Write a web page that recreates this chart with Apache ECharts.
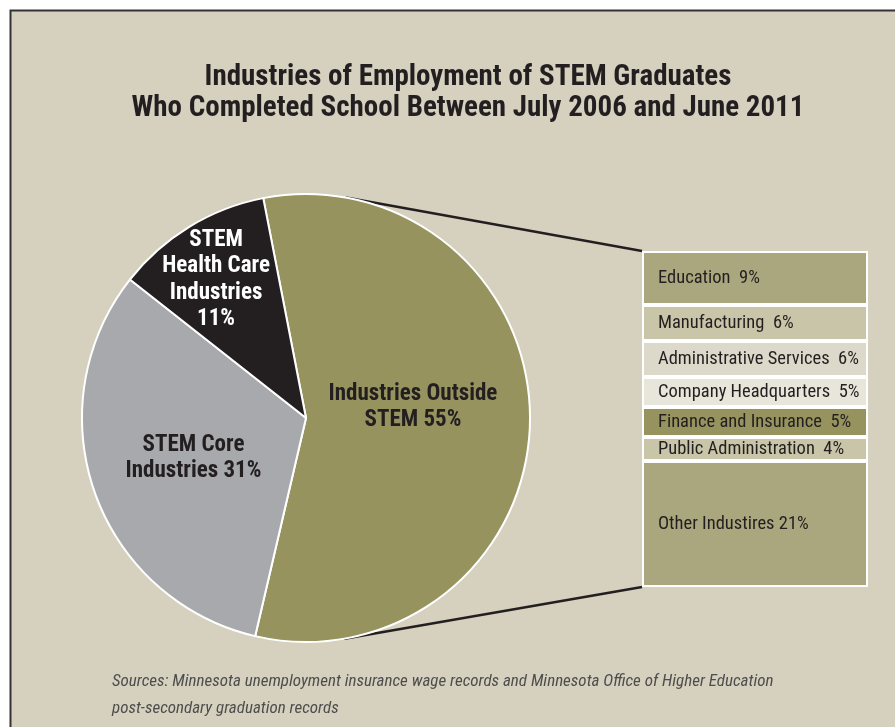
<!DOCTYPE html>
<html>
<head>
<meta charset="utf-8">
<script src="https://cdn.jsdelivr.net/npm/echarts@6/dist/echarts.min.js"></script>
<style>
html,body{margin:0;padding:0;background:#fff;}
#c{width:895px;height:727px;}
</style>
</head>
<body>
<div id="c"></div>
<script>
// ---- data ----
const pieNames = ['Industries Outside\nSTEM', 'STEM Core\nIndustries', 'STEM\nHealth Care\nIndustries\n'];
const pieValues = [55, 31, 11];
const pieColors = ['#96935f', '#a7a9ac', '#231f20'];

const barNames = ['Education', 'Manufacturing', 'Administrative Services', 'Company Headquarters', 'Finance and Insurance', 'Public Administration', 'Other Industires'];
const barValues = [9, 6, 6, 5, 5, 4, 21];
const barColors = ['#aaa67e', '#c9c5a8', '#dcd9ca', '#e8e5da', '#96935f', '#c9c5a8', '#aaa67e'];
const barGaps = ['  ', '  ', '  ', '  ', '  ', '  ', ' '];

const titleLines = ['Industries of Employment of STEM Graduates', 'Who Completed School Between July 2006 and June 2011'];
const sourceLines = ['Sources: Minnesota unemployment insurance wage records and Minnesota Office of Higher Education', 'post-secondary graduation records'];

// ---- layout ----
const FONT = '"Roboto Condensed", "PT Sans Narrow", "DejaVu Sans Condensed", sans-serif';
const pieC = [306, 418], pieR = 224;
const grid = {left: 642, top: 251, width: 226, height: 336};
const barTotal = barValues.reduce((a, b) => a + b, 0);

function tangent(px, py, upper) {
  const dx = px - pieC[0], dy = py - pieC[1];
  const d = Math.sqrt(dx * dx + dy * dy);
  const base = Math.atan2(dy, dx);
  const off = Math.acos(pieR / d);
  const a = upper ? base - off : base + off;
  return [pieC[0] + pieR * Math.cos(a), pieC[1] + pieR * Math.sin(a)];
}
const tTop = tangent(grid.left, grid.top, true);
const tBot = tangent(grid.left, grid.top + grid.height, false);

const pieLabelShift = [[-8, -13], [-4, 2], [-30, -40]];

const chart = echarts.init(document.getElementById('c'));
chart.setOption({
  backgroundColor: '#ffffff',
  animation: false,
  title: [{
    text: titleLines.join('\n'),
    left: 463, top: 57, textAlign: 'center',
    textStyle: {fontFamily: FONT, fontSize: 29, fontWeight: 'bold', color: '#231f20', lineHeight: 31}
  }, {
    text: sourceLines.join('\n'),
    left: 107, top: 663,
    textStyle: {fontFamily: FONT, fontSize: 17, fontStyle: 'italic', fontWeight: 'normal', color: '#4d4d4d', lineHeight: 27}
  }],
  graphic: {elements: [
    {type: 'rect', z: -10, shape: {x: 10.5, y: 10.5, width: 900, height: 800},
     style: {fill: '#d6d1be', stroke: '#333333', lineWidth: 2}},
    {type: 'line', z: 0, shape: {x1: tTop[0], y1: tTop[1], x2: grid.left, y2: grid.top},
     style: {stroke: '#231f20', lineWidth: 2.5}},
    {type: 'line', z: 0, shape: {x1: tBot[0], y1: tBot[1], x2: grid.left, y2: grid.top + grid.height},
     style: {stroke: '#231f20', lineWidth: 2.5}}
  ]},
  grid: {left: grid.left, top: grid.top, width: grid.width, height: grid.height},
  xAxis: {type: 'category', data: [''], show: false},
  yAxis: {type: 'value', min: 0, max: barTotal, inverse: true, show: false},
  series: [{
    type: 'pie',
    z: 3,
    center: pieC,
    radius: pieR,
    startAngle: 101,
    clockwise: true,
    silent: true,
    data: pieNames.map((n, i) => ({
      name: n, value: pieValues[i],
      itemStyle: {color: pieColors[i]},
      label: {color: i === 2 ? '#ffffff' : '#231f20'}
    })),
    itemStyle: {borderColor: '#ffffff', borderWidth: 2},
    label: {
      show: true, position: 'inside',
      formatter: p => p.name + (p.dataIndex === 2 ? '' : ' ') + p.value + '%',
      fontFamily: FONT, fontSize: 23, fontWeight: 'bold', lineHeight: 26.5, align: 'center'
    },
    labelLine: {show: false},
    labelLayout: p => ({dx: pieLabelShift[p.dataIndex][0], dy: pieLabelShift[p.dataIndex][1]})
  }].concat(barNames.map((n, i) => ({
    type: 'bar',
    name: n,
    stack: 'total',
    barWidth: '100%',
    barCategoryGap: 0,
    silent: true,
    data: [barValues[i]],
    itemStyle: {color: barColors[i], borderColor: '#ffffff', borderWidth: 2},
    label: {
      show: true, position: 'insideLeft', distance: 16,
      formatter: () => n + barGaps[i] + barValues[i] + '%',
      fontFamily: FONT, fontSize: 18.5, color: '#231f20'
    }
  })))
});
</script>
</body>
</html>
